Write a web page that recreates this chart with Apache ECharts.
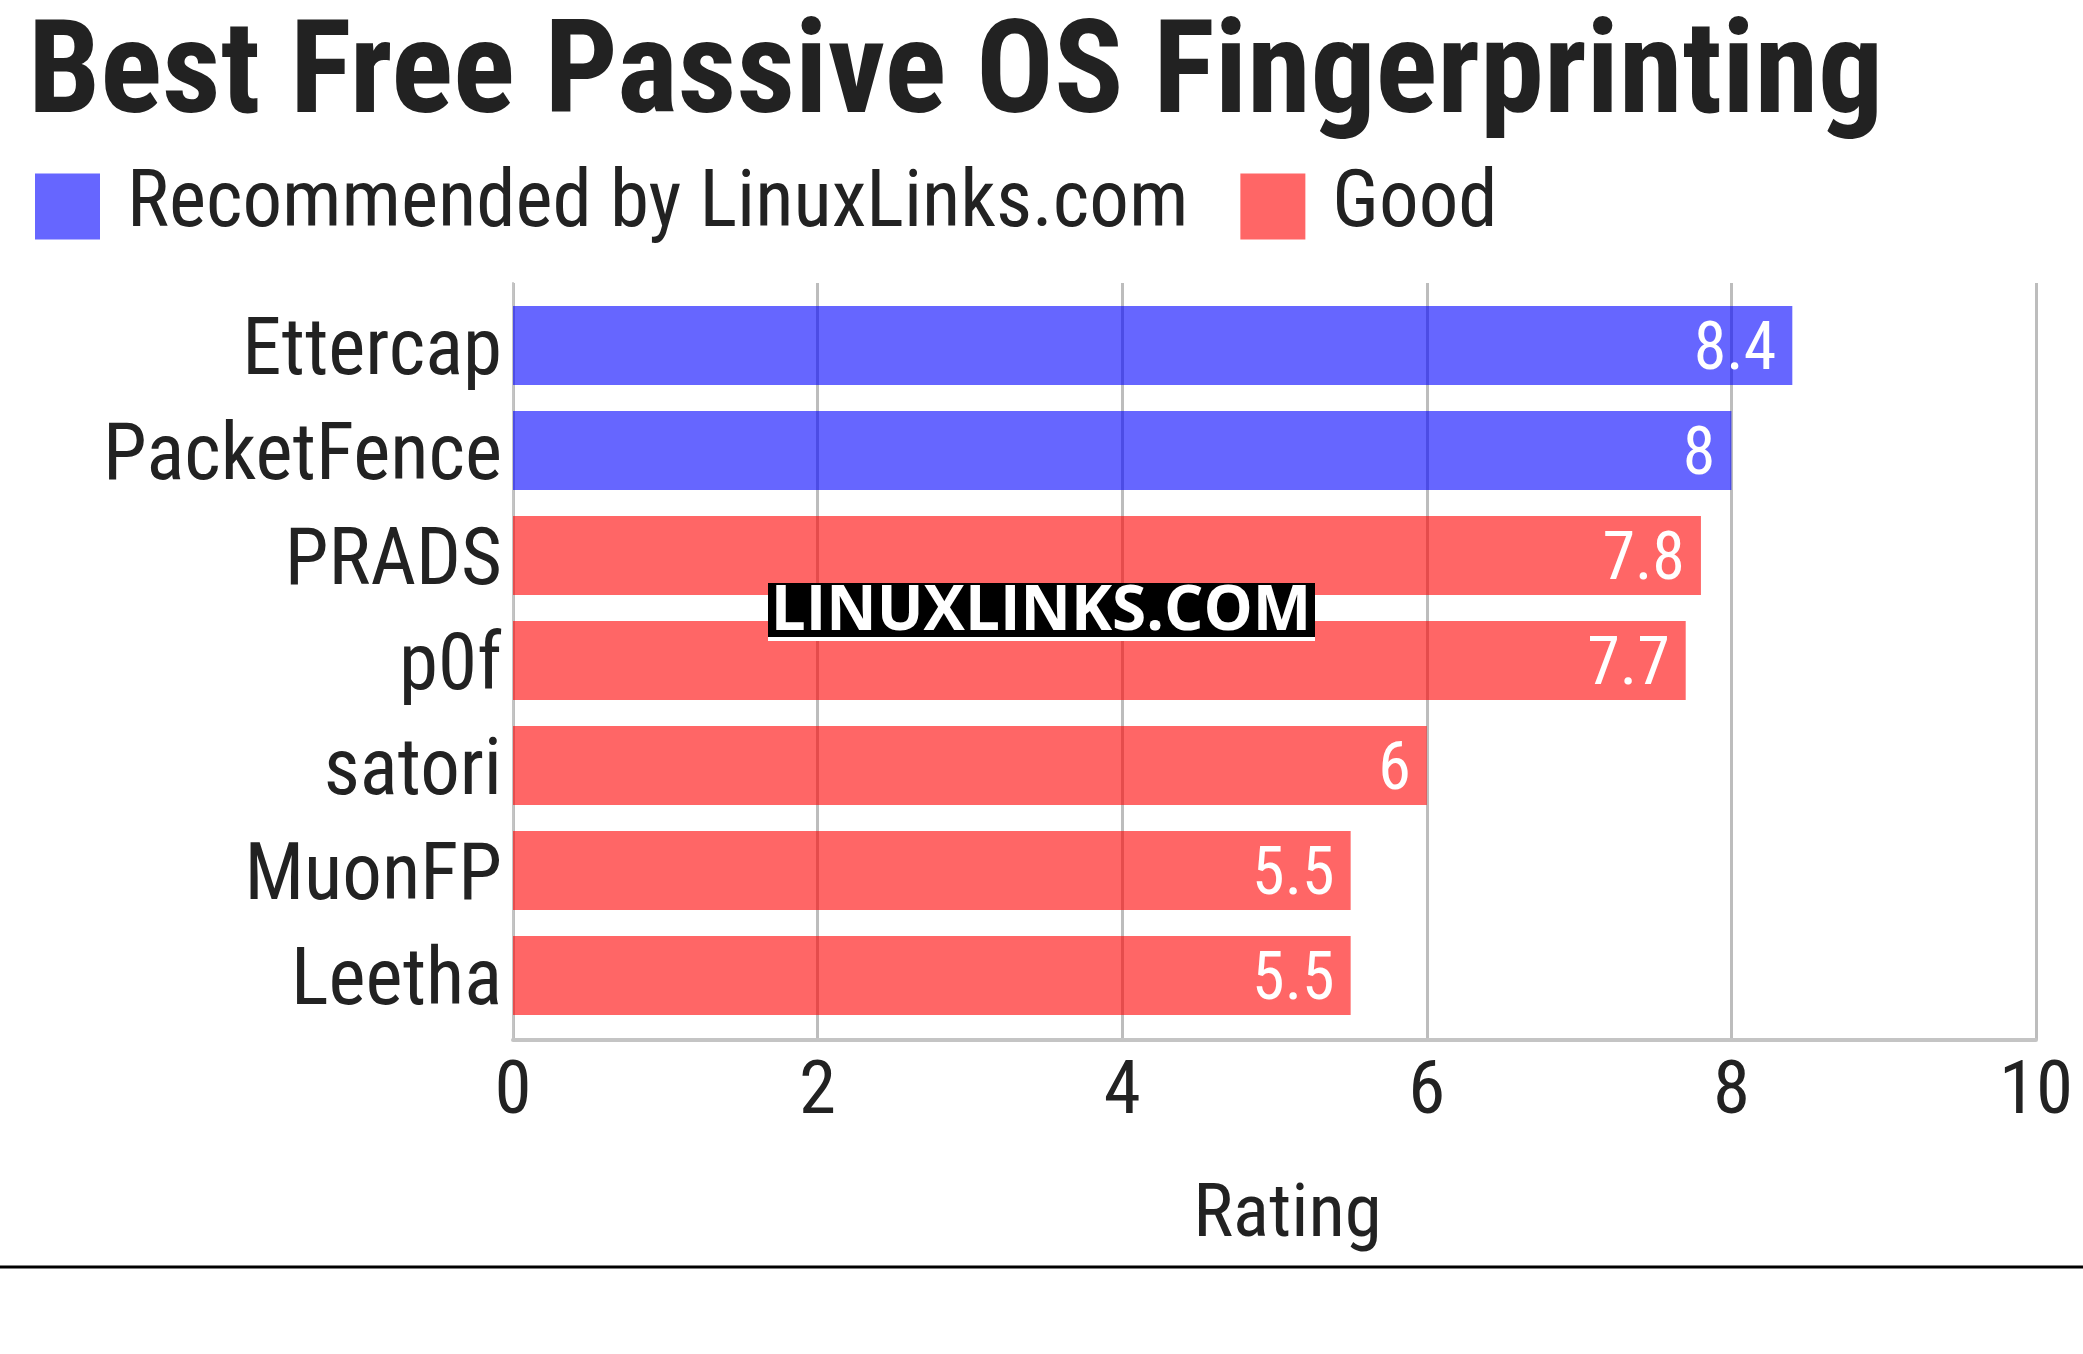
<!DOCTYPE html>
<html>
<head>
<meta charset="utf-8">
<script src="https://cdn.jsdelivr.net/npm/echarts@6/dist/echarts.min.js"></script>
<style>
  html, body { margin: 0; padding: 0; background: #fff; }
  #chart { width: 2083px; height: 1354px; }
</style>
</head>
<body>
<div id="chart"></div>
<script>
// chart data
var categories = ['Ettercap', 'PacketFence', 'PRADS', 'p0f', 'satori', 'MuonFP', 'Leetha'];
var recommended = [8.4, 8, '-', '-', '-', '-', '-'];
var good = ['-', '-', 7.8, 7.7, 6, 5.5, 5.5];
var xTicks = [0, 2, 4, 6, 8, 10];

var FONT = '"Roboto Condensed", "Liberation Sans Narrow", "DejaVu Sans Condensed", Roboto, sans-serif';
var INK = '#222222';

var chart = echarts.init(document.getElementById('chart'));

var option = {
    backgroundColor: '#ffffff',
    animation: false,
    textStyle: { fontFamily: FONT },
    title: {
        text: 'Best Free Passive OS Fingerprinting',
        left: 23,
        top: 10,
        textStyle: { fontSize: 129, fontWeight: 'bold', color: INK, fontFamily: FONT }
    },
    legend: {
        left: 30,
        top: 162,
        icon: 'rect',
        itemWidth: 65,
        itemHeight: 66,
        itemGap: 52,
        textStyle: { fontSize: 79, color: INK, fontFamily: FONT, padding: [14, 0, 0, 22] },
        data: ['Recommended by LinuxLinks.com', 'Good']
    },
    grid: [
        // bars
        { left: 513, right: 47, top: 293, bottom: 326 },
        // gridlines + axis lines, slightly taller
        { left: 513, right: 47, top: 283, bottom: 314 }
    ],
    xAxis: [
        {
            gridIndex: 0, type: 'value', min: 0, max: 10, interval: 2,
            axisLine: { show: false }, axisTick: { show: false },
            axisLabel: { show: false }, splitLine: { show: false }
        },
        {
            gridIndex: 1, type: 'value', min: xTicks[0], max: xTicks[xTicks.length - 1], interval: 2,
            name: '{n|Rating}', nameLocation: 'middle', nameGap: 140,
            nameTextStyle: {
                rich: { n: { fontSize: 75, color: INK, fontFamily: FONT, padding: [0, 0, 0, 26] } }
            },
            axisLine: { show: true, lineStyle: { color: '#c4c4c4', width: 4 } },
            axisTick: { show: false },
            axisLabel: { fontSize: 75, color: INK, fontFamily: FONT, margin: 17 },
            splitLine: { show: true, lineStyle: { color: '#bdbdbd', width: 3 } }
        }
    ],
    yAxis: [
        {
            gridIndex: 0, type: 'category', data: categories, inverse: true,
            axisLine: { show: false }, axisTick: { show: false },
            axisLabel: {
                margin: 11,
                formatter: function (v) { return '{c|' + v + '}'; },
                rich: {
                    c: { fontSize: 79, color: INK, fontFamily: FONT, padding: [18, 0, 0, 0] }
                }
            }
        },
        {
            gridIndex: 1, type: 'value', min: 0, max: 1,
            axisLine: { show: true, lineStyle: { color: '#c4c4c4', width: 2 } },
            axisTick: { show: false }, axisLabel: { show: false }, splitLine: { show: false }
        }
    ],
    series: [
        {
            name: 'Recommended by LinuxLinks.com',
            type: 'bar', stack: 'r', xAxisIndex: 0, yAxisIndex: 0,
            barWidth: 79,
            itemStyle: { color: 'rgba(0,0,255,0.6)' },
            label: {
                show: true, position: 'insideRight', distance: 16, offset: [0, 7],
                color: '#ffffff', fontSize: 66, fontFamily: FONT
            },
            data: recommended
        },
        {
            name: 'Good',
            type: 'bar', stack: 'r', xAxisIndex: 0, yAxisIndex: 0,
            barWidth: 79,
            itemStyle: { color: 'rgba(255,0,0,0.6)' },
            label: {
                show: true, position: 'insideRight', distance: 16, offset: [0, 7],
                color: '#ffffff', fontSize: 66, fontFamily: FONT
            },
            data: good
        }
    ],
    graphic: [
        {
            type: 'line', z: 100,
            shape: { x1: 0, y1: 1267, x2: 2083, y2: 1267 },
            style: { stroke: '#000000', lineWidth: 3 }
        },
        // watermark
        {
            type: 'rect', z: 200,
            shape: { x: 768, y: 583, width: 547, height: 58 },
            style: { fill: '#ffffff' }
        },
        {
            type: 'rect', z: 201,
            shape: { x: 768, y: 583, width: 547, height: 54 },
            style: { fill: '#000000' }
        },
        {
            type: 'text', z: 202, x: 1041, y: 612,
            style: {
                text: 'LINUXLINKS.COM', fill: '#ffffff',
                font: 'bold 62px "Open Sans", "DejaVu Sans", sans-serif',
                align: 'center', verticalAlign: 'middle'
            }
        }
    ]
};

chart.setOption(option);
</script>
</body>
</html>
